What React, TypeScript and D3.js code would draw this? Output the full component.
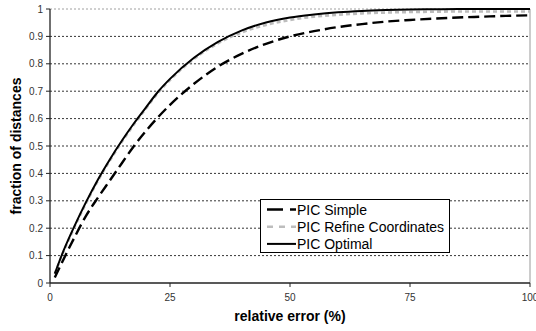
import React from "react";
import * as d3 from "d3";

const errorPct = [1, 2.5, 5, 7.5, 10, 12.5, 15, 17.5, 20, 22.5, 25, 30, 35, 40, 45, 50, 55, 60, 65, 70, 75, 80, 85, 90, 95, 100];
const picSimple = [0.02, 0.075, 0.163, 0.245, 0.312, 0.375, 0.438, 0.5, 0.555, 0.605, 0.65, 0.727, 0.79, 0.837, 0.873, 0.9, 0.919, 0.934, 0.945, 0.954, 0.96, 0.965, 0.969, 0.972, 0.975, 0.977];
const picRefine = [0.033, 0.101, 0.2, 0.291, 0.374, 0.448, 0.516, 0.579, 0.637, 0.694, 0.741, 0.818, 0.875, 0.915, 0.942, 0.96, 0.972, 0.979, 0.984, 0.987, 0.989, 0.99, 0.991, 0.991, 0.991, 0.991];
const picOptimal = [0.034, 0.104, 0.204, 0.295, 0.378, 0.452, 0.52, 0.583, 0.641, 0.698, 0.745, 0.822, 0.88, 0.922, 0.951, 0.969, 0.98, 0.988, 0.993, 0.996, 0.998, 0.999, 1.0, 1.0, 1.0, 1.0];
const xTicks = [0, 25, 50, 75, 100];
const yTicks = [0, 0.1, 0.2, 0.3, 0.4, 0.5, 0.6, 0.7, 0.8, 0.9, 1];
const seriesNames = ["PIC Simple", "PIC Refine Coordinates", "PIC Optimal"];

export default function App() {
  const W = 536, H = 331;
  const x = d3.scaleLinear().domain([0, 100]).range([50, 530]);
  const y = d3.scaleLinear().domain([0, 1]).range([283, 9]);
  const line = (vals: number[]) =>
    d3.line<number>().x((_, i) => x(errorPct[i])).y((d) => y(d)).curve(d3.curveMonotoneX)(vals) || "";
  const font = "Arial, 'Liberation Sans', sans-serif";
  const styles = [
    { stroke: "#000", width: 2.4, dash: "11,5" },
    { stroke: "#bdbdbd", width: 2.6, dash: "4,3" },
    { stroke: "#000", width: 2, dash: "none" },
  ];
  const legendSamples = ["16,7,7", "6,6,6,6,6", "none"];
  return (
    <svg width={W} height={H} style={{ position: "absolute", left: 0, top: 0, background: "#fff" }} fontFamily={font}>
      <rect width={W} height={H} fill="#fff" />
      {yTicks.filter((t) => t > 0).map((t) => (
        <line key={"g" + t} x1={x(0)} x2={x(100)} y1={y(t)} y2={y(t)} stroke={t === 1 ? "#888" : "#000"} strokeWidth={0.8} strokeDasharray="2,2" />
      ))}
      <line x1={x(100)} x2={x(100)} y1={y(1)} y2={y(0)} stroke="#999" strokeWidth={1} />
      {[picRefine, picSimple, picOptimal].map((s, k) => {
        const idx = [1, 0, 2][k];
        const st = styles[idx];
        return <path key={k} d={line(s)} fill="none" stroke={st.stroke} strokeWidth={st.width} strokeDasharray={st.dash} />;
      })}
      <line x1={x(0)} x2={x(0)} y1={y(1)} y2={y(0)} stroke="#222" strokeWidth={1.3} />
      <line x1={x(0)} x2={x(100)} y1={y(0)} y2={y(0)} stroke="#222" strokeWidth={1.3} />
      {yTicks.map((t) => (
        <g key={"y" + t}>
          <line x1={x(0) - 4} x2={x(0)} y1={y(t)} y2={y(t)} stroke="#222" strokeWidth={1} />
          <text x={x(0) - 7} y={y(t)} dy="0.35em" textAnchor="end" fontSize={10} fill="#333">{t === 0 || t === 1 ? String(t) : t.toFixed(1)}</text>
        </g>
      ))}
      {xTicks.map((t) => (
        <g key={"x" + t}>
          <line x1={x(t)} x2={x(t)} y1={y(0)} y2={y(0) + 4} stroke="#222" strokeWidth={1} />
          <text x={x(t)} y={y(0) + 18} textAnchor="middle" fontSize={10} fill="#333">{t}</text>
        </g>
      ))}
      <text x={290} y={321} textAnchor="middle" fontSize={14} fontWeight="bold" fill="#000">relative error (%)</text>
      <text transform={`translate(21,146) rotate(-90)`} textAnchor="middle" fontSize={14} fontWeight="bold" fill="#000">fraction of distances</text>
      <g>
        <rect x={260.5} y={199.5} width={189} height={53} fill="#fff" stroke="#000" strokeWidth={1} />
        {seriesNames.map((n, i) => {
          const cy = 209.5 + i * 17.2;
          const st = styles[i];
          return (
            <g key={n}>
              <line x1={267} x2={296} y1={cy} y2={cy} stroke={st.stroke} strokeWidth={i === 2 ? 2 : 2.6} strokeDasharray={legendSamples[i]} />
              <text x={297} y={cy} dy="0.36em" fontSize={14} fill="#000">{n}</text>
            </g>
          );
        })}
      </g>
    </svg>
  );
}
